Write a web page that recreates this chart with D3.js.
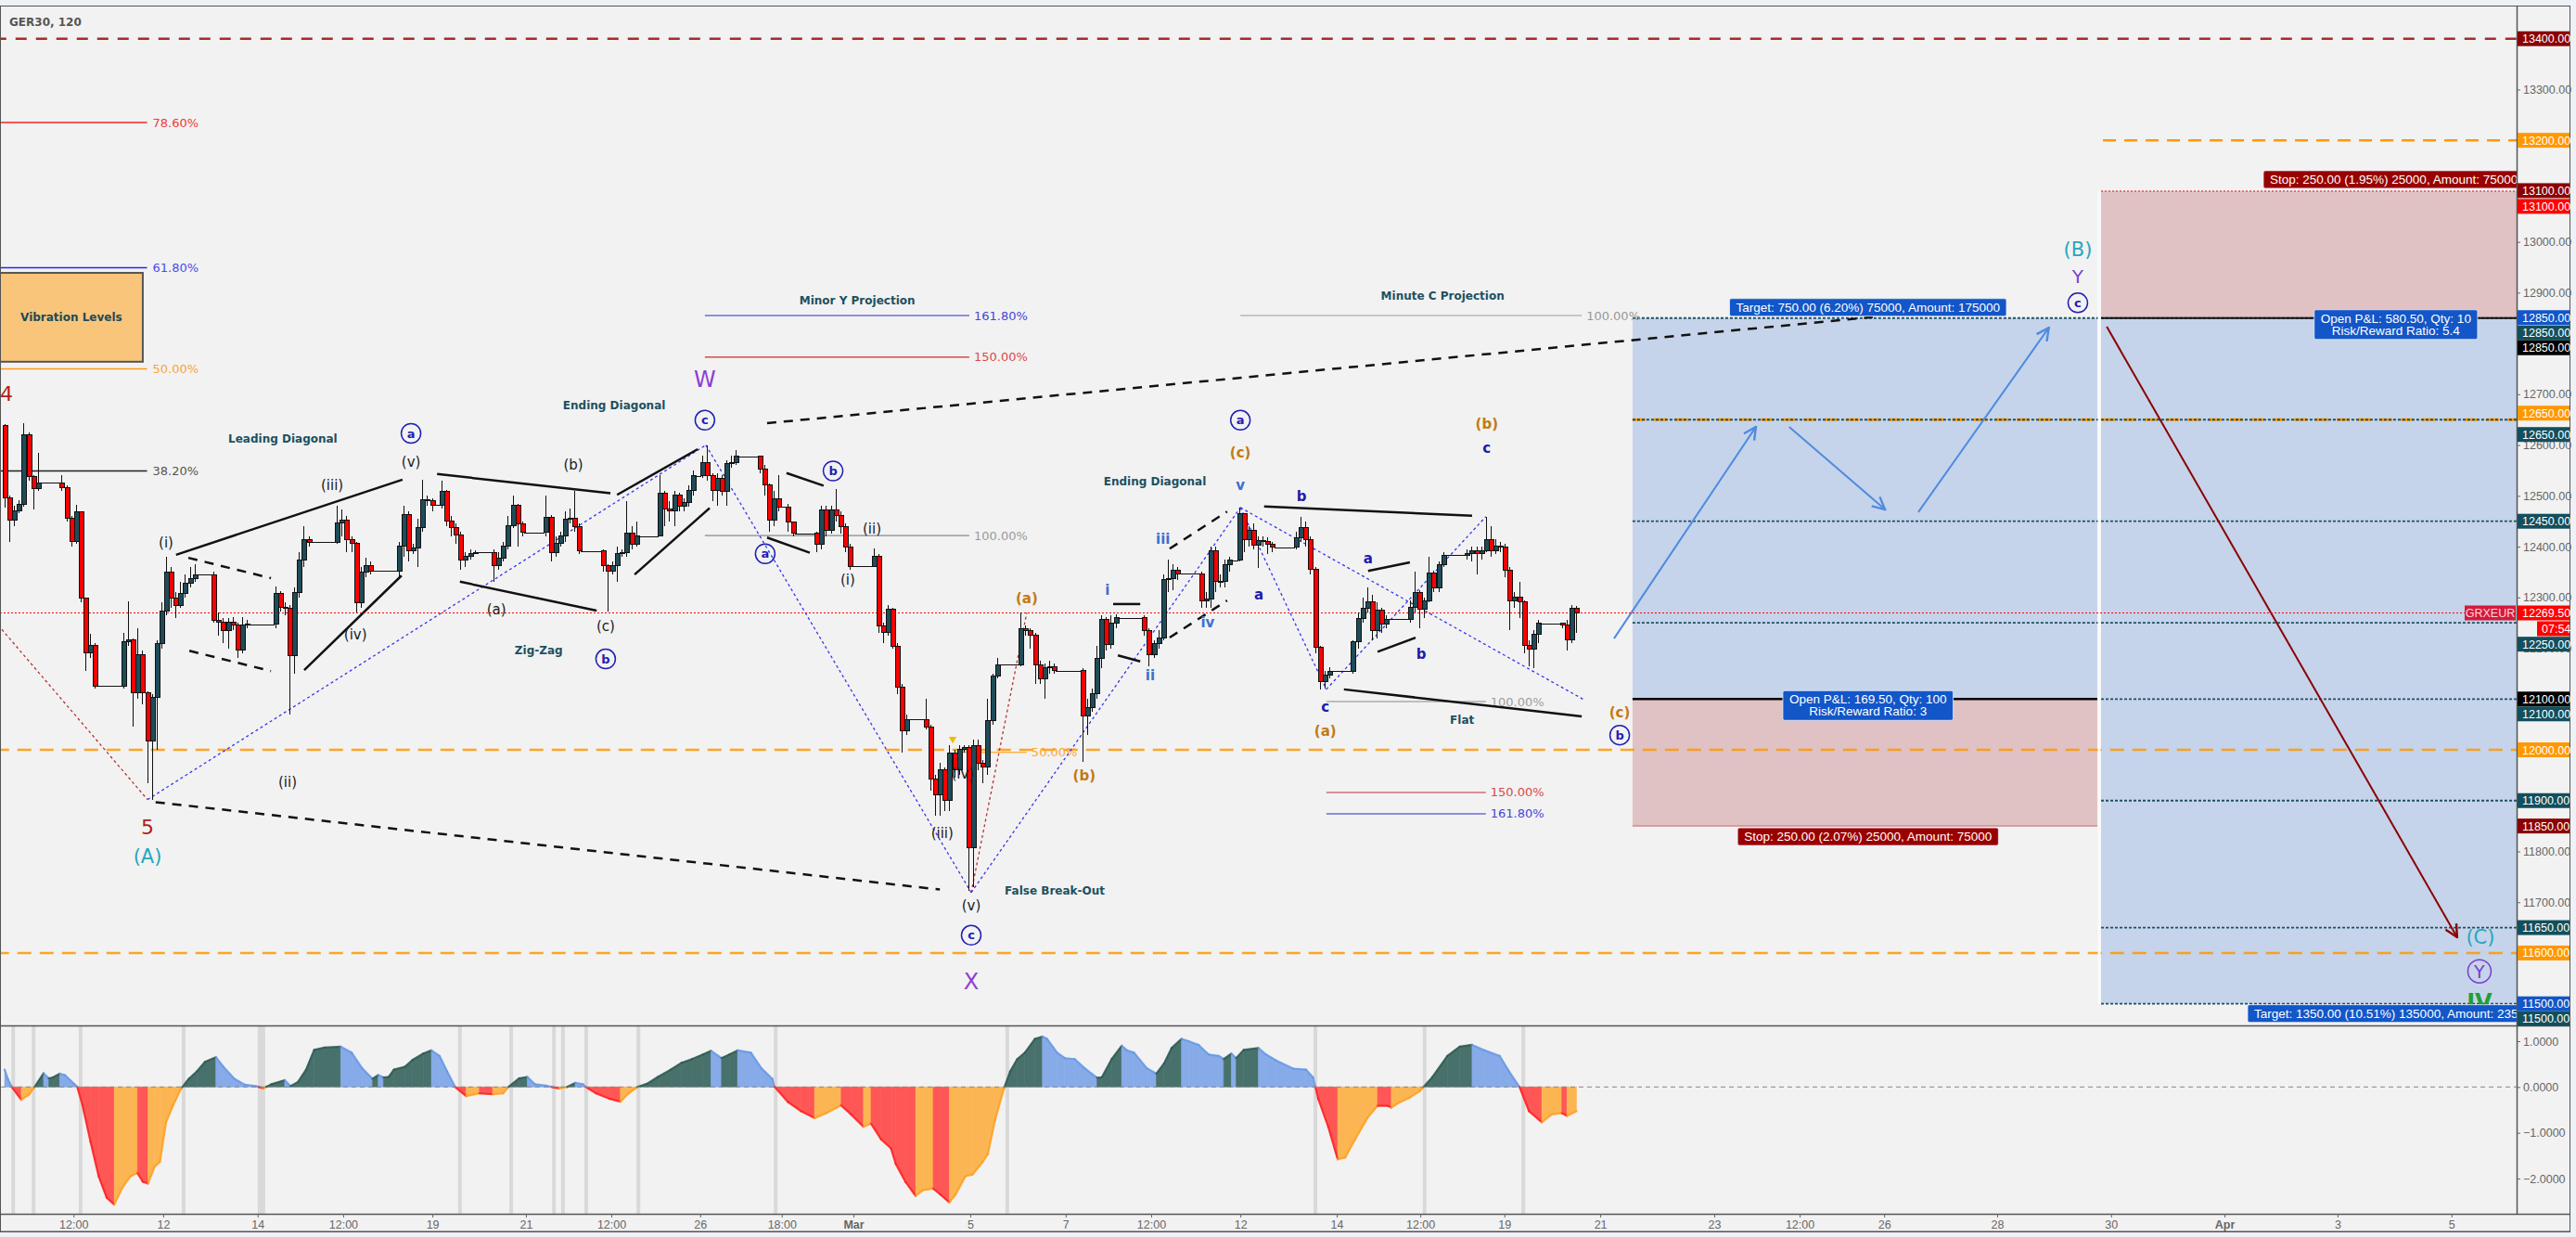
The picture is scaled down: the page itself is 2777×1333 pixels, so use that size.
<!DOCTYPE html>
<html><head><meta charset="utf-8">
<script src="https://cdn.jsdelivr.net/npm/d3@7"></script>
<style>
html,body{margin:0;padding:0;background:#eef1f5;overflow:hidden;}
svg{display:block;}
</style></head><body>
<svg id="c" width="2777" height="1333"></svg>
<script>
// ---------------- DATA ----------------
const symbolTitle = "GER30, 120";
const firstOpen = 12639;
const closes = [
12496,12453,12471,12483,12621,12538,12515,12526,12526,12526,
12526,12526,12517,12456,12410,12468,12298,12191,12206,12126,
12126,12126,12126,12126,12126,12213,12217,12112,12188,12112,
12018,12103,12209,12273,12349,12298,12285,12307,12328,12338,
12345,12345,12345,12345,12255,12252,12234,12251,12246,12197,
12246,12247,12247,12247,12247,12247,12247,12308,12280,12278,
12185,12310,12374,12414,12409,12409,12409,12409,12409,12409,
12447,12452,12413,12407,12289,12349,12363,12352,12352,12352,
12352,12352,12352,12401,12464,12392,12398,12438,12493,12490,
12482,12482,12508,12450,12438,12423,12374,12381,12386,12389,
12389,12389,12389,12363,12377,12401,12441,12482,12444,12428,
12428,12428,12428,12428,12458,12389,12407,12422,12454,12456,
12440,12391,12391,12391,12391,12391,12362,12351,12362,12387,
12389,12427,12404,12421,12421,12421,12421,12421,12506,12475,
12471,12502,12480,12486,12510,12539,12539,12565,12539,12510,
12534,12508,12563,12565,12578,12578,12578,12578,12578,12553,
12521,12453,12494,12478,12478,12448,12426,12426,12426,12426,
12426,12404,12472,12433,12472,12461,12439,12400,12361,12361,
12361,12361,12361,12381,12244,12231,12276,12203,12123,12037,
12060,12060,12060,12060,12045,11943,11912,11960,11901,11993,
11961,12001,12005,11807,12009,11974,11966,12058,12146,12168,
12168,12168,12168,12168,12239,12235,12225,12168,12139,12162,
12164,12156,12156,12156,12156,12156,12156,12066,12084,12111,
12180,12257,12208,12249,12260,12260,12260,12260,12260,12260,
12235,12188,12209,12221,12335,12338,12354,12347,12347,12347,
12347,12347,12294,12296,12392,12331,12331,12365,12373,12373,
12465,12413,12432,12403,12412,12410,12404,12399,12399,12399,
12399,12399,12418,12438,12413,12356,12202,12135,12148,12155,
12155,12155,12155,12155,12212,12259,12278,12292,12234,12275,
12247,12257,12257,12257,12257,12257,12281,12310,12276,12293,
12348,12318,12364,12383,12383,12383,12383,12383,12387,12391,
12386,12391,12413,12392,12401,12400,12354,12293,12301,12292,
12205,12198,12228,12249,12249,12249,12249,12249,12246,12217,
12278,12269.5];
const highs = [
12642,12500,12480,12492,12643,12625,12540,12584,12526,12526,
12526,12526,12541,12520,12460,12483,12470,12300,12228,12210,
12126,12126,12126,12126,12126,12231,12292,12220,12240,12195,
12115,12110,12215,12290,12380,12360,12310,12330,12345,12360,
12366,12345,12345,12345,12350,12270,12260,12260,12262,12250,
12262,12255,12247,12247,12247,12247,12247,12322,12312,12290,
12285,12320,12390,12440,12420,12409,12409,12409,12409,12409,
12480,12473,12460,12420,12410,12360,12378,12370,12352,12352,
12352,12352,12352,12410,12480,12470,12405,12455,12531,12500,
12495,12482,12530,12512,12460,12445,12430,12390,12395,12392,
12389,12389,12389,12395,12390,12410,12460,12500,12485,12450,
12428,12428,12428,12428,12500,12462,12420,12430,12470,12475,
12510,12445,12391,12391,12391,12391,12395,12365,12370,12400,
12395,12490,12440,12450,12421,12421,12421,12421,12540,12510,
12490,12510,12506,12496,12520,12550,12539,12580,12600,12545,
12545,12540,12570,12580,12590,12578,12578,12578,12578,12580,
12560,12525,12510,12540,12478,12485,12450,12426,12426,12426,
12426,12430,12480,12480,12480,12514,12470,12445,12405,12361,
12361,12361,12361,12397,12385,12250,12285,12280,12210,12130,
12070,12060,12060,12060,12100,12050,11950,11975,11965,12010,
12000,12010,12010,12010,12020,12020,11980,12100,12150,12180,
12168,12168,12168,12168,12270,12245,12240,12230,12175,12170,
12175,12170,12156,12156,12156,12156,12156,12160,12100,12120,
12205,12265,12262,12265,12266,12260,12260,12260,12260,12260,
12265,12240,12215,12235,12345,12375,12365,12360,12347,12347,
12347,12347,12350,12310,12400,12400,12345,12375,12380,12373,
12477,12465,12440,12445,12420,12420,12418,12410,12399,12399,
12399,12399,12430,12458,12450,12420,12360,12205,12155,12162,
12155,12155,12155,12155,12215,12270,12300,12320,12305,12290,
12280,12265,12257,12257,12257,12257,12295,12350,12315,12300,
12380,12352,12370,12390,12383,12383,12383,12383,12395,12400,
12400,12400,12459,12440,12415,12410,12405,12360,12310,12330,
12295,12215,12235,12255,12249,12249,12249,12249,12250,12255,
12285,12283];
const lows = [
12477,12410,12440,12465,12478,12530,12474,12510,12526,12526,
12526,12526,12510,12450,12400,12405,12290,12155,12180,12120,
12126,12126,12126,12126,12126,12120,12205,12045,12100,12090,
11935,11902,12000,12200,12265,12280,12260,12280,12300,12320,
12330,12345,12345,12345,12250,12225,12210,12200,12236,12180,
12190,12240,12247,12247,12247,12247,12247,12240,12272,12265,
12069,12150,12300,12360,12400,12409,12409,12409,12409,12409,
12405,12420,12390,12390,12270,12280,12340,12345,12352,12352,
12352,12352,12352,12340,12380,12370,12385,12360,12430,12480,
12470,12482,12475,12440,12420,12405,12355,12360,12375,12385,
12389,12389,12389,12330,12355,12370,12395,12436,12400,12420,
12428,12428,12428,12428,12420,12370,12380,12400,12410,12445,
12430,12385,12391,12391,12391,12391,12350,12273,12345,12330,
12380,12380,12395,12400,12421,12421,12421,12421,12420,12440,
12450,12440,12470,12470,12478,12500,12539,12535,12530,12490,
12480,12500,12480,12555,12560,12578,12578,12578,12578,12545,
12500,12430,12440,12470,12478,12430,12420,12426,12426,12426,
12426,12390,12395,12420,12425,12450,12425,12390,12355,12361,
12361,12361,12361,12360,12230,12210,12225,12200,12110,11995,
12030,12060,12060,12060,12040,11920,11870,11870,11880,11880,
11945,11950,11995,11723,11730,11960,11935,11950,12050,12140,
12168,12168,12168,12168,12165,12225,12200,12130,12130,12100,
12150,12150,12156,12156,12156,12156,12156,11976,12030,12075,
12100,12160,12195,12200,12240,12260,12260,12260,12260,12260,
12225,12165,12180,12200,12215,12310,12315,12335,12347,12347,
12347,12347,12280,12280,12280,12310,12320,12320,12350,12373,
12370,12390,12400,12395,12358,12400,12385,12390,12399,12399,
12399,12399,12395,12410,12400,12345,12190,12118,12120,12140,
12155,12155,12155,12155,12150,12200,12250,12270,12215,12220,
12230,12240,12257,12257,12257,12257,12250,12270,12240,12260,
12290,12310,12310,12360,12383,12383,12383,12383,12375,12370,
12345,12375,12390,12380,12385,12390,12340,12235,12280,12260,
12190,12165,12160,12210,12249,12249,12249,12249,12240,12195,
12210,12230];
const lastPrice = 12269.5;

// oscillator (lower pane): sample positions (bar index) and values
const oscBars = [
0,0.7,1.5,3.5,5.2,6.3,8.2,9.3,10.2,11.6,
12.7,14.7,15.3,16.4,18.1,19.8,21.5,23.1,24.8,26.5,
28,29.1,30.2,31.6,32.7,34,35.5,37.2,38.8,40.5,
42.2,44.5,46.1,48.4,50.6,52.9,54.5,56.2,59,60.2,
61.8,63.5,65.2,67.4,70.8,73.1,75.3,77.5,78.7,79.8,
80.9,82,84.3,85.9,88.2,89.9,91.6,93.2,94.9,97.2,
100,102.8,105,106.1,108.4,110.1,111.7,114,115.7,116.8,
118.5,120.2,121.8,122.4,124.6,127.5,129.7,131.4,133.3,135.3,
137.6,140.3,142.6,144.8,147.1,148.8,151,152.7,154.4,157.2,
159.4,161.7,162.2,165,167.8,170.6,173.1,176.2,178.3,180.9,
182.5,184.6,186.7,187.7,189.8,191.9,193.5,195.6,197.1,199,
200.3,202.4,203.9,206,207.1,208.6,210.5,211.8,213.3,214.9,
217,218.6,219.6,221.7,223.3,225.4,227.5,230.1,231.1,233.2,
235.3,236.4,237.9,240.6,242.6,244.2,245.8,247.9,249.4,251.5,
253.6,255.7,256.8,258.4,259.4,261,264.1,265.7,267.8,271.4,
274.1,275.6,276.7,278.8,280.8,282.4,284.5,287.1,289.2,291.3,
292.1,293.4,296,298.1,300.7,303.9,306.5,309.1,311.7,314.9,
316.9,319.1,321.1,323.8,325.9,328,329.1,331.1];
const oscVals = [
0.38,0.17,0,-0.28,-0.16,0,0.30,0.19,0.21,0.29,
0.26,0.06,0,-0.40,-1.2,-1.95,-2.42,-2.57,-2.2,-1.95,
-1.88,-2.07,-2.11,-1.74,-1.64,-0.77,-0.40,-0.03,0.18,0.34,
0.55,0.65,0.44,0.18,0.05,0.02,-0.03,0.06,0.15,0.02,
0.11,0.38,0.81,0.86,0.88,0.75,0.41,0.18,0.26,0.21,
0.22,0.38,0.44,0.59,0.73,0.80,0.68,0.34,0,-0.20,
-0.14,-0.16,-0.14,0,0.19,0.22,0.06,0.03,-0.01,-0.03,
0,0.09,0.06,0,-0.14,-0.26,-0.32,-0.14,0,0.07,
0.22,0.38,0.53,0.61,0.71,0.79,0.63,0.71,0.80,0.75,
0.41,0.18,0,-0.33,-0.53,-0.68,-0.57,-0.40,-0.60,-0.87,
-0.80,-1.14,-1.34,-1.68,-2.08,-2.38,-2.25,-2.22,-2.35,-2.52,
-2.35,-1.95,-1.91,-1.64,-1.47,-0.73,-0.03,0.34,0.61,0.75,
1.05,1.10,1.05,0.75,0.63,0.61,0.41,0.20,0.21,0.61,
0.90,0.80,0.75,0.41,0.29,0.51,0.85,1.05,1.00,0.92,
0.71,0.68,0.61,0.73,0.63,0.81,0.85,0.71,0.58,0.40,
0.38,0.21,-0.26,-0.87,-1.58,-1.54,-1.14,-0.67,-0.41,-0.41,
-0.45,-0.36,-0.23,-0.09,0.21,0.68,0.88,0.92,0.80,0.68,
0.34,0,-0.53,-0.77,-0.60,-0.57,-0.63,-0.53];
const gapBars = [1.8,6.1,16,37.7,95.9,106.7,115.7,117.6,122.5,133.5,162.4,211.2,276.1,299.1,319.9];
const wideGapBars = [54.1];

// axes
const priceTicks = [13300,13000,12900,12700,12600,12500,12400,12300,12200,11800,11700];
const oscTicks = [1,0,-1,-2];
const timeTickBars = [14.5,33.4,53.3,71.3,90.1,109.8,127.8,146.5,163.7,178.8,203.4,223.5,241.5,260.3,280.6,298.2,315.9,336.1,360.1,378.1,395.9,419.7,443.7,467.6,491.4,515.4];
const timeTickLabels = ["12:00","12","14","12:00","19","21","12:00","26","18:00","Mar","5","7","12:00","12","14","12:00","19","21","23","12:00","26","28","30","Apr","3","5"];

// fib / level data
const fibLeftLevels = [13235,12949,12750,12549];
const fibLeftNames = ["78.60%","61.80%","50.00%","38.20%"];
const minorYLevels = [12855,12773,12422];
const minorYNames = ["161.80%","150.00%","100.00%"];
const flatLevels = [12095,11916,11874];
const flatNames = ["100.00%","150.00%","161.80%"];
const minuteCLevel = 12855;
const longPos = {entry:12100, target:12850, stop:11850};
const shortPos = {entry:12850, target:11500, stop:13100};
const tealLevelsLong = [12850,12650,12450,12250];
const tealLevelsShort = [12100,11900,11650,11500];

// ---------------- SETUP ----------------
const W = 2777, H = 1333;
const svg = d3.select("#c");
const x = d3.scaleLinear().domain([0, closes.length-1]).range([5, 1699]);
const y = d3.scaleLinear().domain([13400, 11500]).range([41.7, 1081.7]);
const yi = d3.scaleLinear().domain([1, -2]).range([1122, 1270]);
const AX = 2713;
const FONT = "'Liberation Sans', Arial, sans-serif";
const VFONT = "'DejaVu Sans', Verdana, sans-serif";

const defs = svg.append("defs");
defs.append("clipPath").attr("id","clipMain").append("rect").attr("x",1).attr("y",6).attr("width",AX-1).attr("height",1099);
defs.append("clipPath").attr("id","clipInd").append("rect").attr("x",1).attr("y",1106).attr("width",AX-1).attr("height",202);
function marker(id,color){
  defs.append("marker").attr("id",id).attr("viewBox","0 0 12 12").attr("refX",11).attr("refY",6)
    .attr("markerWidth",16).attr("markerHeight",16).attr("markerUnits","userSpaceOnUse").attr("orient","auto")
    .append("path").attr("d","M1,1 L11,6 L1,11").attr("fill","none").attr("stroke",color).attr("stroke-width",1.8);
}
marker("arrB","#4f8be0"); marker("arrR","#8b0000");

svg.append("rect").attr("width",W).attr("height",H).attr("fill","#eef1f5");
svg.append("rect").attr("x",0.5).attr("y",6.5).attr("width",2770).attr("height",1321).attr("fill","#f2f2f2").attr("stroke","#555");

const gm = svg.append("g").attr("clip-path","url(#clipMain)");
const XEND = 560;

// position boxes
gm.append("rect").attr("x",x(342.9)).attr("width",x(440.8)-x(342.9)).attr("y",y(longPos.target)).attr("height",y(longPos.entry)-y(longPos.target)).attr("fill","#c5d4ea");
gm.append("rect").attr("x",x(342.9)).attr("width",x(440.8)-x(342.9)).attr("y",y(longPos.entry)).attr("height",y(longPos.stop)-y(longPos.entry)).attr("fill","#e0c2c4");
gm.append("line").attr("x1",x(342.9)).attr("x2",x(440.8)).attr("y1",y(longPos.stop)).attr("y2",y(longPos.stop)).attr("stroke","#d08a8a").attr("stroke-width",1.5);
gm.append("rect").attr("x",x(441.6)).attr("width",x(XEND)-x(441.6)).attr("y",y(shortPos.stop)).attr("height",y(shortPos.entry)-y(shortPos.stop)).attr("fill","#e0c2c4");
gm.append("rect").attr("x",x(441.6)).attr("width",x(XEND)-x(441.6)).attr("y",y(shortPos.entry)).attr("height",y(shortPos.target)-y(shortPos.entry)).attr("fill","#c5d4ea");
gm.append("line").attr("x1",x(441.6)).attr("x2",x(XEND)).attr("y1",y(shortPos.stop)).attr("y2",y(shortPos.stop)).attr("stroke","#e05050").attr("stroke-width",1.5).attr("stroke-dasharray","2,2");

function hline(b0,b1,p,color,w,dash,op){
  const l = gm.append("line").attr("x1",x(b0)).attr("x2",x(b1)).attr("y1",y(p)).attr("y2",y(p)).attr("stroke",color).attr("stroke-width",w);
  if(dash) l.attr("stroke-dasharray",dash);
  if(op) l.attr("stroke-opacity",op);
  return l;
}
// key horizontal levels
hline(-2,XEND,13400,"#a82a2a",2.5,"12,10");
hline(442,XEND,13200,"#ff9800",2.5,"14,9");
hline(342.9,XEND,12650,"#ff9800",3,"14,9");
hline(-2,XEND,12000,"#ff9800",2.5,"15,9",0.85);
hline(-2,XEND,11600,"#ff9800",2.5,"15,9",0.85);
tealLevelsLong.forEach(p=>hline(342.9,XEND,p,"#1d5060",1.8,"3,2"));
tealLevelsShort.forEach(p=>hline(441.6,XEND,p,"#1d5060",1.8,"3,2"));
hline(342.9,440.8,longPos.entry,"#000",2.5);
hline(441.6,XEND,shortPos.entry,"#111",2);
gm.append("line").attr("x1",(x(440.8)+x(441.6))/2).attr("x2",(x(440.8)+x(441.6))/2).attr("y1",y(13100)).attr("y2",y(11500)).attr("stroke","#fafafa").attr("stroke-width",3);

// left fib levels + vibration box
const fibLeftColors = ["#ff2020","#2525ff","#ff9a1a","#222"];
const fibLeftText = ["#f03a3a","#4a4af0","#f5a640","#555"];
fibLeftLevels.forEach((p,i)=>{
  hline(-2,30,p,fibLeftColors[i],1.4);
  gm.append("text").attr("x",x(30)+6).attr("y",y(p)+4.5).text(fibLeftNames[i]).attr("fill",fibLeftText[i]).style("font",`13px ${VFONT}`);
});
gm.append("rect").attr("x",x(-1)).attr("y",y(12939)).attr("width",x(29.1)-x(-1)).attr("height",y(12764)-y(12939)).attr("fill","#f8c57a").attr("stroke","#555").attr("stroke-width",2);
gm.append("text").attr("x",(x(-1)+x(29.1))/2).attr("y",(y(12939)+y(12764))/2+4).attr("text-anchor","middle").text("Vibration Levels").attr("fill","#1d4a58").style("font",`bold 12px ${VFONT}`);

// projection fibs
function fibSet(b0,b1,levels,names,lineColors,textColors){
  levels.forEach((p,i)=>{
    hline(b0,b1,p,lineColors[i],1.2);
    gm.append("text").attr("x",x(b1)+5).attr("y",y(p)+4.5).text(names[i]).attr("fill",textColors[i]).style("font",`13px ${VFONT}`);
  });
}
fibSet(147.5,203.2,minorYLevels,minorYNames,["#2a2ac8","#c82a2a","#888"],["#4646d8","#d84a4a","#9a9a9a"]);
fibSet(278.4,312,flatLevels,flatNames,["#888","#c82a2a","#2a2ac8"],["#a0a0a0","#d84a4a","#4646d8"]);
fibSet(201.4,215.3,[11995],["50.00%"],["#ff9800"],["#ffa530"]);
fibSet(260.3,332.2,[minuteCLevel],["100.00%"],["#999"],["#999"]);
gm.append("path").attr("d",d3.symbol(d3.symbolTriangle,30)()).attr("transform",`translate(${x(199.7)},${y(12021)}) rotate(180)`).attr("fill","#f5b800");

// wave structure lines
function seg(arr,color,w,dash,mk){
  arr.forEach(s=>{
    const l = gm.append("line").attr("x1",x(s[0])).attr("y1",y(s[1])).attr("x2",x(s[2])).attr("y2",y(s[3])).attr("stroke",color).attr("stroke-width",w);
    if(dash) l.attr("stroke-dasharray",dash);
    if(mk) l.attr("marker-end",`url(#${mk})`);
  });
}
const solidLines = [[36.1,12384,83.8,12532],[63.1,12157,83.6,12343],[91.1,12543,127.6,12505],[95.9,12331,124.7,12274],[129,12502,146,12592],[132.7,12345,148.5,12476],[164.7,12545,172.5,12520],[160.6,12418,169.6,12388],[233.5,12287,239.2,12287],[234.5,12186,239.2,12174],[265.3,12479,309.1,12461],[282.1,12119,332.2,12066],[287.2,12352,296,12369],[289.2,12193,297.2,12221]];
const dashedLines = [[38.7,12378,56.1,12338],[38.9,12195,56.1,12155],[245.4,12396,257.5,12469],[245.4,12221,257.5,12294],[160.6,12643,393.5,12852],[31.8,11897,197,11725]];
const blueDotted = [[30.1,11902,147.7,12600],[147.7,12600,203.6,11719],[203.6,11719,260.3,12477],[260.3,12477,278.4,12119],[260.3,12477,332.6,12099],[278.4,12119,312,12459]];
const redDotted = [[-0.6,12237,30.1,11902],[203.6,11719,215.3,12270]];
const blueArrows = [[339,12219,368.9,12636],[375.9,12636,396.1,12473],[403.1,12468,430.6,12831]];
const redArrows = [[442.8,12833,516.6,11631]];
seg(blueDotted,"#3535f0",1.3,"3,3");
seg(redDotted,"#b83030",1.3,"3,3");
seg(solidLines,"#111",2.5);
seg(dashedLines,"#111",2.5,"10,8");
seg(blueArrows,"#4f8be0",2,null,"arrB");
seg(redArrows,"#8b0000",2,null,"arrR");

// current price line
gm.append("line").attr("x1",0).attr("x2",2657).attr("y1",y(lastPrice)).attr("y2",y(lastPrice)).attr("stroke","#ff0000").attr("stroke-width",1).attr("stroke-dasharray","2,2");

// candles
const step = x(1)-x(0);
const cg = gm.append("g").attr("shape-rendering","crispEdges");
closes.forEach((c,i)=>{
  const o = i===0 ? firstOpen : closes[i-1];
  const hi = Math.max(highs[i],o,c), lo = Math.min(lows[i],o,c);
  const cx = Math.round(x(i))+0.5;
  if(o===c && hi===lo){
    cg.append("line").attr("x1",cx-step/2-0.5).attr("x2",cx+step/2+0.5).attr("y1",Math.round(y(c))+0.5).attr("y2",Math.round(y(c))+0.5).attr("stroke","#111").attr("stroke-width",1.5);
    return;
  }
  cg.append("line").attr("x1",cx).attr("x2",cx).attr("y1",y(hi)).attr("y2",y(lo)).attr("stroke","#111");
  const top = y(Math.max(o,c)), bot = y(Math.min(o,c));
  cg.append("rect").attr("x",cx-2.5).attr("y",top).attr("width",5).attr("height",Math.max(1,bot-top))
    .attr("fill", c>o ? "#1f4c58" : (c<o ? "#ff0000" : "#111")).attr("stroke","#111").attr("stroke-width",1);
});

// labels
const labels = [
 ["4",0.4,12700,"red"],["5",30.1,11848,"red"],["(A)",30.1,11790,"tealBig"],
 ["Leading Diagonal",58.6,12612,"title"],["a",85.6,12623,"circ"],["(v)",85.6,12566,"wave"],
 ["(iii)",69,12521,"wave"],["(i)",34,12407,"wave"],["(iv)",73.9,12226,"wave"],["(ii)",59.6,11936,"wave"],
 ["Ending Diagonal",128.4,12678,"title"],["(b)",119.8,12561,"wave"],["(a)",103.6,12276,"wave"],
 ["(c)",126.6,12243,"wave"],["b",126.6,12179,"circ"],["Zig-Zag",112.5,12196,"title"],
 ["W",147.5,12729,"purple"],["c",147.5,12649,"circ"],["a",160.2,12386,"circ"],["b",174.5,12549,"circ"],
 ["(ii)",182.7,12435,"wave"],["(i)",177.6,12335,"wave"],["(a)",215.3,12298,"orange"],
 ["(iv)",201.8,11953,"wave"],["(b)",227.4,11949,"orange"],["(iii)",197.5,11836,"wave"],
 ["(v)",203.6,11693,"wave"],["c",203.6,11635,"circ"],["X",203.6,11544,"purple"],
 ["False Break-Out",221.2,11722,"title"],["Minor Y Projection",179.6,12884,"title"],
 ["Ending Diagonal",242.3,12528,"title"],["a",260.3,12649,"circ"],["(c)",260.3,12584,"orange"],
 ["v",260.3,12520,"minute"],["b",273.2,12499,"navy"],["iii",244,12415,"minute"],["i",232.3,12314,"minute"],
 ["a",264.2,12305,"navy"],["iv",253.4,12251,"minute"],["ii",241.3,12147,"minute"],
 ["a",287.2,12376,"navy"],["b",298.4,12188,"navy"],["c",278.2,12084,"navy"],["(a)",278.2,12036,"orange"],
 ["(b)",312.2,12641,"orange"],["c",312.2,12594,"navy"],["Flat",307,12058,"title"],
 ["Minute C Projection",302.9,12893,"title"],["(c)",340.2,12073,"orange"],["b",340.2,12029,"circ"],
 ["(B)",436.7,12984,"tealBig"],["Y",436.7,12931,"purpleS"],["c",436.7,12880,"circ"],
 ["(C)",521.5,11631,"tealBig"],["Y",521.3,11564,"circY"],["IV",521.3,11503,"green"]
];
const styles = {
  wave:{font:`15px ${VFONT}`,fill:"#1a1a1a"},
  title:{font:`bold 12px ${VFONT}`,fill:"#1d5060"},
  circ:{font:`bold 13px ${VFONT}`,fill:"#1f1fb4",circle:10.5,stroke:"#1f1fb4"},
  circY:{font:`19px ${VFONT}`,fill:"#7a3ad0",circle:12.5,stroke:"#7a3ad0"},
  orange:{font:`bold 15px ${VFONT}`,fill:"#c27a12"},
  purple:{font:`24px ${VFONT}`,fill:"#8d3fd6"},
  purpleS:{font:`20px ${VFONT}`,fill:"#7b3fd0"},
  red:{font:`22px ${VFONT}`,fill:"#b11d1d"},
  tealBig:{font:`21px ${VFONT}`,fill:"#26a7c0"},
  minute:{font:`bold 15px ${VFONT}`,fill:"#3f6fd0"},
  navy:{font:`bold 15px ${VFONT}`,fill:"#1c1cae"},
  green:{font:`bold 24px ${VFONT}`,fill:"#1fa032"}
};
labels.forEach(([t,b,p,s])=>{
  const st = styles[s];
  if(st.circle) gm.append("circle").attr("cx",x(b)).attr("cy",y(p)).attr("r",st.circle).attr("fill","none").attr("stroke",st.stroke).attr("stroke-width",1.5);
  gm.append("text").attr("x",x(b)).attr("y",y(p)).attr("text-anchor","middle").attr("dominant-baseline","central").text(t).attr("fill",st.fill).style("font",st.font);
});

// position labels
function tagBox(lines,xa,yTop,bg,anchor){
  const grp = gm.append("g");
  const rect = grp.append("rect");
  const texts = lines.map(t=>grp.append("text").text(t).attr("text-anchor","middle").attr("fill","#fff").style("font",`13.5px ${FONT}`));
  const w = d3.max(texts,t=>t.node().getComputedTextLength())+14;
  const h = lines.length*13+6;
  const x0 = anchor==="center" ? xa-w/2 : xa;
  rect.attr("x",x0).attr("y",yTop).attr("width",w).attr("height",h).attr("rx",2).attr("fill",bg).attr("stroke","#e8eefc").attr("stroke-width",0.8);
  texts.forEach((t,i)=>t.attr("x",x0+w/2).attr("y",yTop+14+i*13));
}
tagBox(["Target: 750.00 (6.20%) 75000, Amount: 175000"],x(392.5),y(longPos.target)-21,"#1256c8","center");
tagBox(["Open P&L: 169.50, Qty: 100","Risk/Reward Ratio: 3"],x(392.5),y(longPos.entry)-9,"#1256c8","center");
tagBox(["Stop: 250.00 (2.07%) 25000, Amount: 75000"],x(392.5),y(longPos.stop)+2,"#990000","center");
tagBox(["Open P&L: 580.50, Qty: 10","Risk/Reward Ratio: 5.4"],x(503.7),y(shortPos.entry)-9,"#1256c8","center");
tagBox(["Stop: 250.00 (1.95%) 25000, Amount: 750000"],2440,y(shortPos.stop)-22,"#990000","left");
tagBox(["Target: 1350.00 (10.51%) 135000, Amount: 2350000"],2423,y(shortPos.target)+1,"#1256c8","left");

// title
svg.append("text").attr("x",10).attr("y",28).text(symbolTitle).attr("fill","#555").style("font",`bold 12px ${VFONT}`);

// ---------------- OSCILLATOR PANE ----------------
const gi = svg.append("g").attr("clip-path","url(#clipInd)");
gapBars.forEach(b=>gi.append("rect").attr("x",x(b)-2).attr("y",1106).attr("width",4).attr("height",202).attr("fill","#d9d9d9"));
wideGapBars.forEach(b=>gi.append("rect").attr("x",x(b)-4).attr("y",1106).attr("width",8).attr("height",202).attr("fill","#d9d9d9"));
const oscCol = {"up+":["#48716c","#2e5a54"],"dn+":["#86abe8","#6699e6"],"dn-":["#ff5656","#ff2020"],"up-":["#fbb552","#ffa020"]};
const y0 = yi(0);
const fillG = gi.append("g"), lineG = gi.append("g");
for(let k=0;k<oscBars.length-1;k++){
  const b0=oscBars[k], v0=oscVals[k], b1=oscBars[k+1], v1=oscVals[k+1];
  const pieces=[];
  if(v0*v1<0){
    const t=v0/(v0-v1), bc=b0+(b1-b0)*t;
    pieces.push([b0,v0,bc,0,v0>0?"pos":"neg"],[bc,0,b1,v1,v1>0?"pos":"neg"]);
  } else pieces.push([b0,v0,b1,v1,(v0+v1)>=0?"pos":"neg"]);
  pieces.forEach(([a0,w0,a1,w1,s])=>{
    const kind = s==="pos" ? (w1>=w0?"up+":"dn+") : (w1<=w0?"dn-":"up-");
    const [fc,lc] = oscCol[kind];
    fillG.append("path").attr("d",`M${x(a0)},${y0}L${x(a0)},${yi(w0)}L${x(a1)},${yi(w1)}L${x(a1)},${y0}Z`).attr("fill",fc).attr("stroke",fc).attr("stroke-width",0.6);
    lineG.append("line").attr("x1",x(a0)).attr("y1",yi(w0)).attr("x2",x(a1)).attr("y2",yi(w1)).attr("stroke",lc).attr("stroke-width",2.2).attr("stroke-linecap","round").attr("stroke-opacity",0.85);
  });
}
gi.append("line").attr("x1",1).attr("x2",AX).attr("y1",y0).attr("y2",y0).attr("stroke","#888").attr("stroke-dasharray","5,4");

// ---------------- FRAME & AXES ----------------
svg.append("line").attr("x1",0).attr("x2",2771).attr("y1",1105.5).attr("y2",1105.5).attr("stroke","#555").attr("stroke-width",1.5);
svg.append("line").attr("x1",0).attr("x2",2771).attr("y1",1308.5).attr("y2",1308.5).attr("stroke","#555").attr("stroke-width",1.5);
svg.append("line").attr("x1",AX+0.5).attr("x2",AX+0.5).attr("y1",6).attr("y2",1309).attr("stroke","#555").attr("stroke-width",1.5);

const ya = svg.append("g").attr("transform",`translate(${AX},0)`).call(d3.axisRight(y).tickValues(priceTicks).tickFormat(d3.format(".2f")).tickSize(4).tickPadding(3));
ya.select(".domain").remove();
ya.selectAll("text").attr("fill","#666").style("font",`12.5px ${FONT}`);
ya.selectAll("line").attr("stroke","#666");
const yo = svg.append("g").attr("transform",`translate(${AX},0)`).call(d3.axisRight(yi).tickValues(oscTicks).tickFormat(d3.format(".4f")).tickSize(4).tickPadding(3));
yo.select(".domain").remove();
yo.selectAll("text").attr("fill","#666").style("font",`12.5px ${FONT}`);
yo.selectAll("line").attr("stroke","#666");

// price labels on axis: [value, dy offset, bg]
const axisTags = [
 [13400,0,"#8b0000"],[13200,0,"#ff9800"],[13100,-0.5,"#8b0000"],[13100,16.5,"#ff0000"],
 [12850,-0.5,"#1256c8"],[12850,16,"#134f5c"],[12850,32,"#000000"],
 [12650,-7,"#ff9800"],[12650,16,"#134f5c"],[12450,0,"#134f5c"],
 [lastPrice,0,"#ff0000"],[12250,23,"#134f5c"],[12100,0,"#000000"],[12100,16,"#134f5c"],
 [12000,0,"#ff9800"],[11900,0,"#134f5c"],[11850,0,"#8b0000"],[11650,0,"#134f5c"],
 [11600,0,"#ff9800"],[11500,0,"#1256c8"],[11500,16,"#134f5c"]
];
const ta = svg.append("g");
axisTags.forEach(([v,dy,bg])=>{
  const cy = y(v)+dy;
  ta.append("rect").attr("x",AX+1).attr("y",cy-8).attr("width",56).attr("height",16).attr("fill",bg);
  ta.append("text").attr("x",AX+6).attr("y",cy+4.5).text(d3.format(".2f")(v)).attr("fill","#fff").style("font",`12.5px ${FONT}`);
});
// countdown
ta.append("rect").attr("x",2735).attr("y",y(lastPrice)+9).attr("width",35).attr("height",16).attr("fill","#ff0000");
ta.append("text").attr("x",2740).attr("y",y(lastPrice)+21.5).text("07:54").attr("fill","#fff").style("font",`12.5px ${FONT}`);
// symbol tag
ta.append("rect").attr("x",2657).attr("y",y(lastPrice)-8).attr("width",55).attr("height",16).attr("fill","#d41a3c");
ta.append("text").attr("x",2684.5).attr("y",y(lastPrice)+4.5).attr("text-anchor","middle").text("GRXEUR").attr("fill","#ffd6de").style("font",`12.5px ${FONT}`);

// time axis
const xa = svg.append("g").attr("transform","translate(0,1308)").call(d3.axisBottom(x).tickValues(timeTickBars).tickFormat((d,i)=>timeTickLabels[i]).tickSize(4).tickPadding(3));
xa.select(".domain").remove();
xa.selectAll("text").attr("fill","#666").style("font",`12.5px ${FONT}`).style("font-weight",(d,i)=>(timeTickLabels[i]==="Mar"||timeTickLabels[i]==="Apr")?"bold":"normal");
xa.selectAll("line").attr("stroke","#666");
svg.append("line").attr("x1",0).attr("x2",2771).attr("y1",1327).attr("y2",1327).attr("stroke","#555");
</script>
</body></html>
